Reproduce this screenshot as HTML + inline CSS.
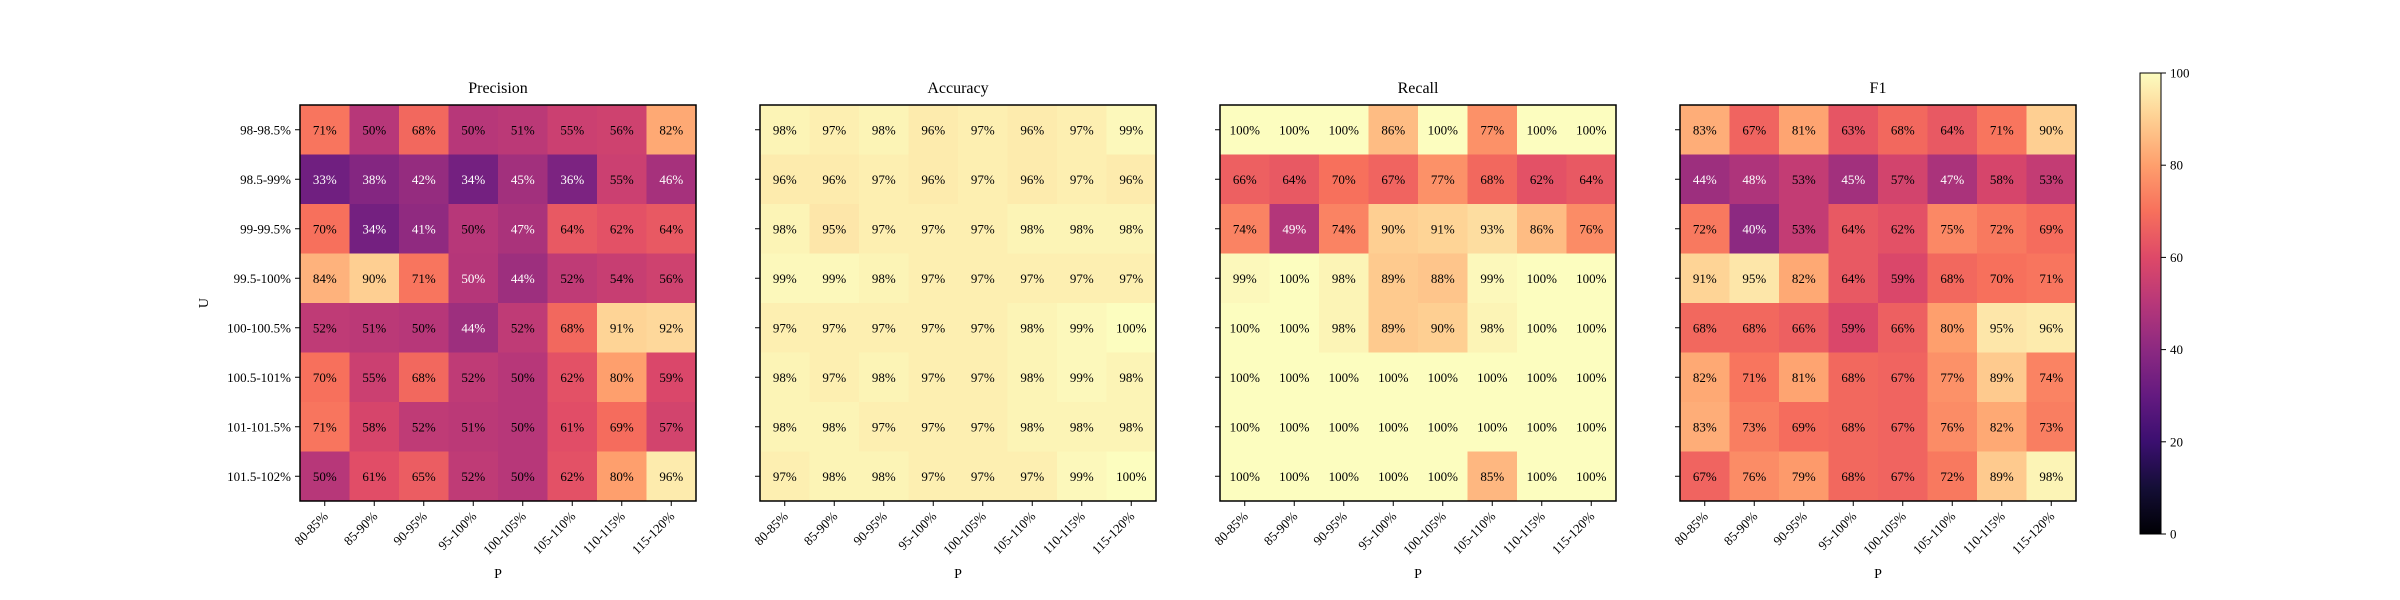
<!DOCTYPE html>
<html><head><meta charset="utf-8"><style>
html,body{margin:0;padding:0;background:#fff;}
svg{display:block;font-family:"Liberation Serif",serif;}
</style></head><body>
<svg id="chart" width="2400" height="600" viewBox="0 0 2400 600" xmlns="http://www.w3.org/2000/svg"></svg>
<script>
const xCategories = ["80-85%","85-90%","90-95%","95-100%","100-105%","105-110%","110-115%","115-120%"];
const yCategories = ["98-98.5%","98.5-99%","99-99.5%","99.5-100%","100-100.5%","100.5-101%","101-101.5%","101.5-102%"];
const panelTitles = ["Precision","Accuracy","Recall","F1"];
const colorbarTicks = [0,20,40,60,80,100];
const precisionValues = [
 [71,50,68,50,51,55,56,82],
 [33,38,42,34,45,36,55,46],
 [70,34,41,50,47,64,62,64],
 [84,90,71,49.6,44,52,54,56],
 [52,51,50,44,52,68,91,92],
 [70,55,68,52,50,62,80,59],
 [71,58,52,51,50,61,69,57],
 [50,61,65,52,50,62,80,96]];
const accuracyValues = [
 [98,97,98,96,97,96,97,99],
 [96,96,97,96,97,96,97,96],
 [98,95,97,97,97,98,98,98],
 [99,99,98,97,97,97,97,97],
 [97,97,97,97,97,98,99,100],
 [98,97,98,97,97,98,99,98],
 [98,98,97,97,97,98,98,98],
 [97,98,98,97,97,97,99,100]];
const recallValues = [
 [100,100,100,86,100,77,100,100],
 [66,64,70,67,77,68,62,64],
 [74,49,74,90,91,93,86,76],
 [99,100,98,89,88,99,100,100],
 [100,100,98,89,90,98,100,100],
 [100,100,100,100,100,100,100,100],
 [100,100,100,100,100,100,100,100],
 [100,100,100,100,100,85,100,100]];
const f1Values = [
 [83,67,81,63,68,64,71,90],
 [44,48,53,45,57,47,58,53],
 [72,40,53,64,62,75,72,69],
 [91,95,82,64,59,68,70,71],
 [68,68,66,59,66,80,95,96],
 [82,71,81,68,67,77,89,74],
 [83,73,69,68,67,76,82,73],
 [67,76,79,68,67,72,89,98]];
const panelData = [precisionValues, accuracyValues, recallValues, f1Values];

const NS="http://www.w3.org/2000/svg";
const svg=document.getElementById('chart');
function mk(tag,attrs,parent){const e=document.createElementNS(NS,tag);for(const k in attrs)e.setAttribute(k,attrs[k]);(parent||svg).appendChild(e);return e;}
const magma=["#000004","#140e36","#3b0f70","#641a80","#8c2981","#b73779","#de4968","#f7705c","#fe9f6d","#fecf92","#fcfdbf"];
function hex(h){return [1,3,5].map(i=>parseInt(h.substr(i,2),16));}
function cmap(v){let t=Math.max(0,Math.min(1,v/100))*10;let i=Math.min(9,Math.floor(t));let f=t-i;const a=hex(magma[i]),b=hex(magma[i+1]);return 'rgb('+a.map((c,k)=>Math.round(c+(b[k]-c)*f)).join(',')+')';}

const panelLeft=[300,760,1220,1680], plotTop=105, plotSize=396, nCells=8, cell=plotSize/nCells;
function xScale(p,i){return panelLeft[p]+i*cell;}
function yScale(j){return plotTop+j*cell;}

panelData.forEach((data,p)=>{
  const g=mk('g',{});
  
  
  data.forEach((row,j)=>row.forEach((v,i)=>{
    const r=mk('rect',{x:xScale(p,i),y:yScale(j),width:cell+0.5,height:cell+0.5,fill:cmap(v)},g);
    
    
    const t=mk('text',{x:xScale(p,i)+cell/2,y:yScale(j)+cell/2+4.5,'text-anchor':'middle','font-size':'13',fill:v<50?'#fff':'#000'},g);
    
    
    t.textContent=Math.round(v)+'%';
  }));
  const fr=mk('rect',{x:panelLeft[p],y:plotTop,width:plotSize,height:plotSize,fill:'none',stroke:'#000','stroke-width':1.5},g);
  
  
  const tt=mk('text',{x:panelLeft[p]+plotSize/2,y:plotTop-12,'text-anchor':'middle','font-size':'16'},g);
  
  
  tt.textContent=panelTitles[p];
  xCategories.forEach((c,i)=>{
    const cx=xScale(p,i)+cell/2;
    mk('line',{x1:cx,x2:cx,y1:plotTop+plotSize,y2:plotTop+plotSize+5,stroke:'#000'},g);
    const lt=mk('text',{transform:`translate(${cx+4},${plotTop+plotSize+16}) rotate(-45)`,'text-anchor':'end','font-size':'13'},g);
    
    
    lt.textContent=c;
  });
  const xl=mk('text',{x:panelLeft[p]+plotSize/2,y:578,'text-anchor':'middle','font-size':'14'},g);
  
  
  xl.textContent='P';
  yCategories.forEach((c,j)=>{
    const cy=yScale(j)+cell/2;
    mk('line',{x1:panelLeft[p]-5,x2:panelLeft[p],y1:cy,y2:cy,stroke:'#000'},g);
    if(p===0){
      const yt=mk('text',{x:panelLeft[p]-9,y:cy+4.5,'text-anchor':'end','font-size':'13'},g);
      
      
      yt.textContent=c;
    }
  });
});
const yl=mk('text',{transform:'translate(208,303) rotate(-90)','text-anchor':'middle','font-size':'14'});


yl.textContent='U';

const cbX=2140,cbW=21,cbTop=73,cbBot=534;
const defsEl=mk('defs',{});
const grad=mk('linearGradient',{id:'mg',x1:0,y1:1,x2:0,y2:0},defsEl);
magma.forEach((c,i)=>mk('stop',{offset:(i*10)+'%','stop-color':c},grad));
const cb=mk('rect',{x:cbX,y:cbTop,width:cbW,height:cbBot-cbTop,fill:'url(#mg)',stroke:'#000','stroke-width':1});


colorbarTicks.forEach(v=>{
  const y=cbBot-(v/100)*(cbBot-cbTop);
  mk('line',{x1:cbX+cbW,x2:cbX+cbW+5,y1:y,y2:y,stroke:'#000'});
  const t=mk('text',{x:cbX+cbW+9,y:y+4.5,'font-size':'13'});
  
  
  t.textContent=v;
});
</script>
</body></html>
